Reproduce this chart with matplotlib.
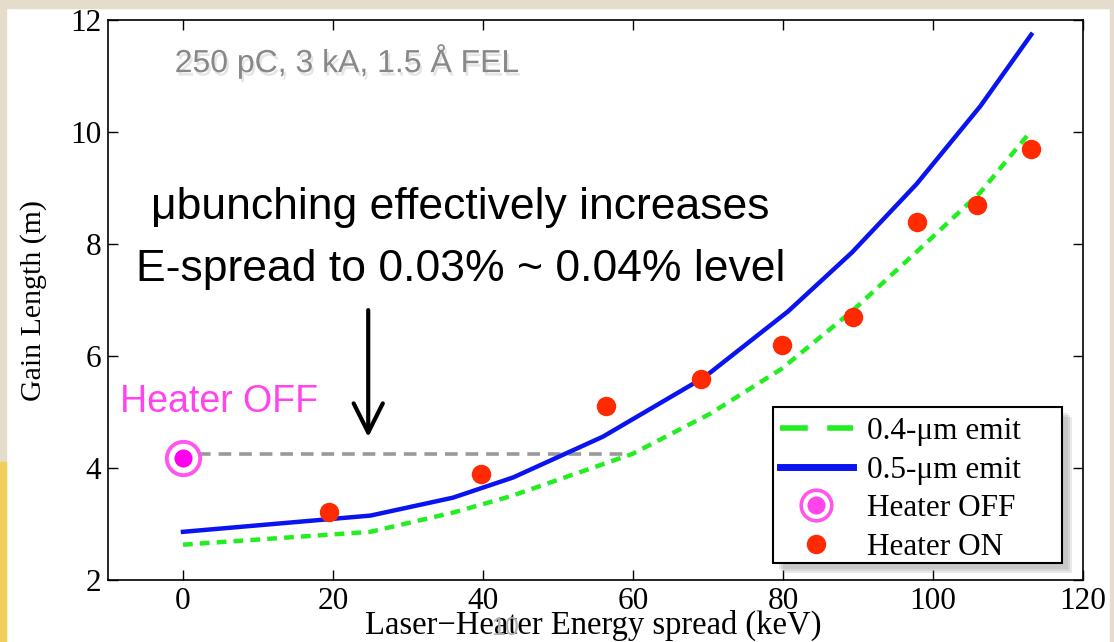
import numpy as np
import matplotlib
matplotlib.use("Agg")
import matplotlib.pyplot as plt
import matplotlib.patheffects as pe
from matplotlib.lines import Line2D

# curve data
x_blue = [0, 25, 36, 44, 56, 69.5, 80.7, 89.2, 97.8, 106.3, 113.1]
y_blue = [2.86, 3.15, 3.47, 3.83, 4.56, 5.62, 6.8, 7.85, 9.07, 10.46, 11.74]

x_green = [0, 25, 36.2, 43.8, 59.9, 70.3, 79.8, 89.2, 98.7, 106.3, 112.9]
y_green = [2.63, 2.86, 3.21, 3.50, 4.25, 4.97, 5.77, 6.8, 7.97, 8.92, 9.99]

x_on = [19.5, 39.8, 56.4, 69.1, 79.9, 89.3, 97.9, 105.9, 113.1]
y_on = [3.21, 3.90, 5.10, 5.59, 6.20, 6.69, 8.40, 8.70, 9.70]

x_off = [0]
y_off = [4.18]

ref_x = [2, 60]
ref_y = [4.25, 4.25]

xticks = [0, 20, 40, 60, 80, 100, 120]
yticks = [2, 4, 6, 8, 10, 12]

serif = ["Liberation Serif", "DejaVu Serif"]
sans = ["Liberation Sans", "DejaVu Sans"]

fig = plt.figure(figsize=(11.14, 6.42), dpi=100, facecolor="white")
# paper-like border of the slide
for rect in [(0, 0.988, 1, 0.012), (0, 0, 0.005, 1), (0.996, 0, 0.004, 1)]:
    fig.patches.append(plt.Rectangle(rect[:2], rect[2], rect[3], transform=fig.transFigure,
                                     color="#e6dccb", zorder=0))
fig.patches.append(plt.Rectangle((0, 0), 0.005, 0.28, transform=fig.transFigure,
                                 color="#f2cf5a", zorder=0))

ax = fig.add_axes([0.0969, 0.0966, 0.8753, 0.8722])

ax.plot(ref_x, ref_y, color="#999999", lw=2.6, ls=(0, (3.5, 2.2)), zorder=2)
ax.plot(x_green, y_green, color="#22ee22", lw=3.2, ls=(0, (2.2, 1.6)), zorder=3)
ax.plot(x_blue, y_blue, color="#0a14f0", lw=3.2, zorder=3)
ax.plot(x_on, y_on, "o", color="#ff2a00", ms=14, mec="none", zorder=4)
ax.plot(x_off, y_off, "o", mfc="none", mec="#ff55ee", mew=2.8, ms=24, zorder=4)
ax.plot(x_off, y_off, "o", color="#ff00ee", ms=13, mec="none", zorder=5)

ax.annotate("", xy=(24.7, 4.55), xytext=(24.7, 6.82),
            arrowprops=dict(arrowstyle="->,head_length=2.1,head_width=1.05", color="black",
                            lw=3, shrinkA=0, shrinkB=0))

ax.set_xlim(-10, 120)
ax.set_ylim(2, 12)
ax.set_xticks(xticks)
ax.set_yticks(yticks)
ax.tick_params(direction="in", top=True, right=True, length=7, width=1, labelsize=22.5, pad=5)
for lab in ax.get_xticklabels() + ax.get_yticklabels():
    lab.set_family(serif)
for s in ax.spines.values():
    s.set_linewidth(1.2)

ax.set_xlabel("Laser\u2212Heater Energy spread (keV)", family=serif, fontsize=23.5, va="baseline")
ax.xaxis.set_label_coords(0.498, -0.0955)
ax.set_ylabel("Gain Length (m)", family=serif, fontsize=21.5)
ax.yaxis.set_label_coords(-0.062, 0.5)

ax.text(-1.1, 11.07, "250 pC, 3 kA, 1.5 \u00c5 FEL", family=sans, fontsize=23, color="#888888",
        va="baseline",
        path_effects=[pe.withSimplePatchShadow(offset=(1.5, -2.5), shadow_rgbFace="#aaaaaa", alpha=0.3)])
ax.text(37, 8.45, "\u03bcbunching effectively increases", family=sans, fontsize=32,
        ha="center", va="baseline", color="black")
ax.text(37, 7.34, "E-spread to 0.03% ~ 0.04% level", family=sans, fontsize=32,
        ha="center", va="baseline", color="black")
ax.text(-8.4, 5.0, "Heater OFF", family=sans, fontsize=27, color="#ff44ee", va="baseline")
fig.text(0.453, 0.022, "10", family=sans, fontsize=18, color="#b0b0b0", ha="center", va="center")

# legend box with soft shadow, drawn separately so the padding matches the slide
box = (0.682, 0.030, 0.296, 0.279)
for k, a in [(10, 0.18), (8, 0.18), (6, 0.18)]:
    ax.add_patch(plt.Rectangle((box[0] + k / 975, box[1] - k / 560), box[2], box[3],
                               transform=ax.transAxes, facecolor="#888888", edgecolor="none",
                               alpha=a, zorder=6))
ax.add_patch(plt.Rectangle(box[:2], box[2], box[3], transform=ax.transAxes,
                           facecolor="white", edgecolor="black", lw=1.5, zorder=7))

handles = [
    Line2D([], [], color="#22ee22", lw=4, ls=(0, (5, 3.5))),
    Line2D([], [], color="#0a14f0", lw=5),
    (Line2D([], [], marker="o", ls="none", mfc="none", mec="#ff55ee", mew=2.6, ms=22),
     Line2D([], [], marker="o", ls="none", color="#ff44ee", mec="none", ms=13)),
    Line2D([], [], marker="o", ls="none", color="#ff2a00", mec="none", ms=14),
]
labels = ["0.4-\u03bcm emit", "0.5-\u03bcm emit", "Heater OFF", "Heater ON"]
leg = ax.legend(handles, labels, loc="upper left", bbox_to_anchor=(0.689, 0.291),
                prop={"family": serif, "size": 22.5}, frameon=False,
                handlelength=2.35, labelspacing=0.31, borderpad=0,
                handletextpad=0.45, borderaxespad=0)
leg.set_zorder(8)

fig.savefig("out.png", dpi=100, facecolor=fig.get_facecolor())
